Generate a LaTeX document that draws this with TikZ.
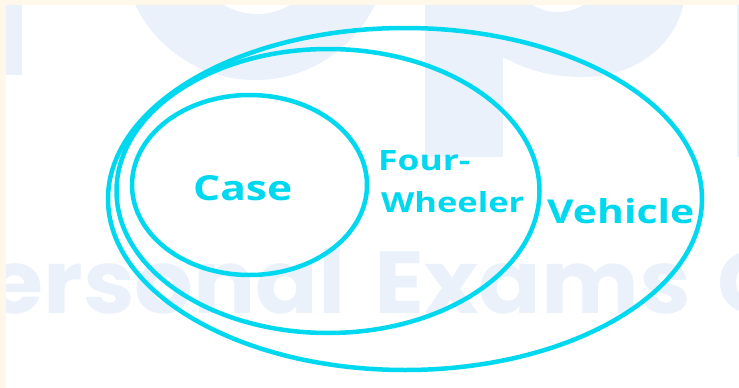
\documentclass[tikz,border=0pt]{standalone}
\usepackage{fontspec}
\usepackage{graphicx}
\newfontfamily\labfont{Open Sans}
\newfontfamily\wmfont{Poppins}
\definecolor{cyanline}{RGB}{0,216,240}
\definecolor{wmblue}{RGB}{234,241,251}
\definecolor{cream}{RGB}{255,247,234}
\tikzset{
  setline/.style={draw=cyanline, line width=4.5pt},
  lab/.style={inner sep=0pt, anchor=base west, text=cyanline},
  wm/.style={inner sep=0pt, text=wmblue, font=\wmfont\bfseries\fontsize{88}{88}\selectfont},
}
\begin{document}
\begin{tikzpicture}[x=1pt,y=-1pt]
\useasboundingbox (0,0) rectangle (739,388);
\begin{scope}
\clip (0,0) rectangle (739,388);
\fill[white] (0,0) rectangle (739,388);
% watermark
\fill[wmblue] (255,-53) circle[radius=133pt];
\fill[white] (257,-50) circle[radius=64pt];
\fill[wmblue] (425,-5) rectangle (503,157);
\fill[wmblue] (503,-40) -- (503,57) .. controls (530,72) and (555,77) .. (583,77)
   .. controls (640,77) and (680,40) .. (685,-5) -- (685,-40) -- cycle;
\fill[white] (558,-36) circle[radius=48pt];
\fill[wmblue] (6,0) rectangle (22,75);
\fill[wmblue] (736.5,0) rectangle (739,157);
\node[wm, anchor=base east] (wm1) at (346,313) {\scalebox{1.05}[1]{Personal}};
\node[wm, anchor=base west] (wm2) at (374,313) {\scalebox{1.05}[1]{Exams}};
\node[wm, anchor=base west] (wm3) at (717,313) {\scalebox{1.05}[1]{C}};
% sets
\draw[setline] (405,199) ellipse[x radius=297pt, y radius=171pt];
\draw[setline] (328,191) ellipse[x radius=211.5pt, y radius=142pt];
\draw[setline] (249.5,185) ellipse[x radius=117.5pt, y radius=90pt];
% labels
\node[lab] (case) at (193,200) {\resizebox{99pt}{25pt}{\labfont\bfseries Case}};
\node[lab] (four) at (378,170) {\resizebox{92pt}{20pt}{\labfont\bfseries Four-}};
\node[lab] (wheel) at (381,212) {\resizebox{143pt}{21pt}{\labfont\bfseries Wheeler}};
\node[lab] (veh) at (547,223) {\resizebox{147pt}{25pt}{\labfont\bfseries Vehicle}};
% cream border
\fill[cream] (0,0) rectangle (739,5);
\fill[cream] (0,0) rectangle (6,388);
\end{scope}
\end{tikzpicture}
\end{document}
